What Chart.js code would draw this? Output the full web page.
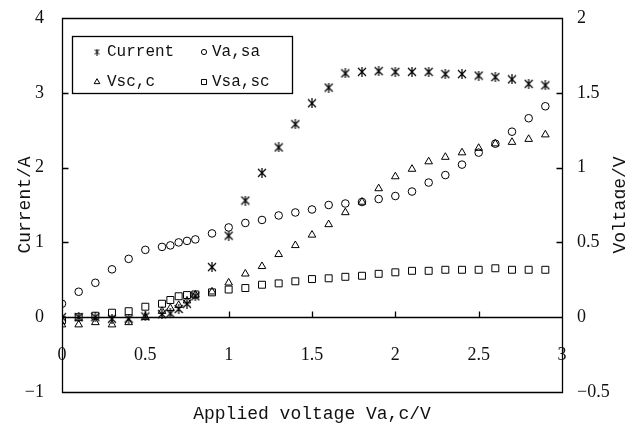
<!DOCTYPE html>
<html>
<head>
<meta charset="utf-8">
<script src="https://cdn.jsdelivr.net/npm/chart.js@4.4.1/dist/chart.umd.min.js"></script>
<style>
  html, body { margin: 0; padding: 0; background: #fff; }
  #wrap { width: 625px; height: 427px; }
</style>
</head>
<body>
<div id="wrap"><canvas id="c" width="625" height="427"></canvas></div>
<script>
// Applied voltage Va,c (V) — shared x values for all four series
const appliedVoltage = [0, 0.1, 0.2, 0.3, 0.4, 0.5, 0.6, 0.65, 0.7, 0.75, 0.8, 0.9,
  1.0, 1.1, 1.2, 1.3, 1.4, 1.5, 1.6, 1.7, 1.8, 1.9, 2.0, 2.1, 2.2, 2.3, 2.4, 2.5,
  2.6, 2.7, 2.8, 2.9];

// Current (A), left axis
const currentA = [0, 0, 0, -0.02, -0.02, 0.01, 0.04, 0.05, 0.11, 0.18, 0.28, 0.67,
  1.09, 1.56, 1.93, 2.27, 2.58, 2.86, 3.07, 3.26, 3.28, 3.29, 3.28, 3.28, 3.28, 3.25,
  3.25, 3.23, 3.21, 3.18, 3.12, 3.10];

// Voltages (V), right axis
const vaSa = [0.09, 0.17, 0.23, 0.32, 0.39, 0.45, 0.47, 0.48, 0.50, 0.51, 0.52, 0.56,
  0.60, 0.63, 0.65, 0.68, 0.70, 0.72, 0.75, 0.76, 0.77, 0.79, 0.81, 0.84, 0.90, 0.95,
  1.02, 1.10, 1.16, 1.24, 1.33, 1.41];
const vscC = [-0.05, -0.05, -0.035, -0.05, -0.035, 0.0, 0.04, 0.06, 0.08, 0.11, 0.15, 0.17,
  0.23, 0.29, 0.34, 0.42, 0.48, 0.55, 0.62, 0.70, 0.77, 0.86, 0.94, 0.99, 1.04, 1.07,
  1.10, 1.13, 1.16, 1.17, 1.19, 1.22];
const vsaSc = [-0.02, 0.0, 0.01, 0.03, 0.04, 0.07, 0.09, 0.115, 0.14, 0.148, 0.152, 0.166,
  0.185, 0.195, 0.217, 0.226, 0.24, 0.255, 0.26, 0.27, 0.277, 0.29, 0.30, 0.31, 0.31, 0.317,
  0.317, 0.317, 0.327, 0.317, 0.317, 0.317];

const seriesNames = ['Current', 'Va,sa', 'Vsc,c', 'Vsa,sc'];
const xTitle = 'Applied voltage Va,c/V';
const yLeftTitle = 'Current/A';
const yRightTitle = 'Voltage/V';

const TICK_FONT = { family: '"Liberation Serif", "DejaVu Serif", serif', size: 18 };
const TITLE_FONT = '18px "Liberation Mono", "DejaVu Sans Mono", monospace';
const LEGEND_FONT = '16px "Liberation Mono", "DejaVu Sans Mono", monospace';
const INK = '#111';

function pairs(ys) {
  return appliedVoltage.map((x, i) => ({ x: x, y: ys[i] }));
}

// Asterisk marker: an X crossed by a vertical stroke
function asteriskMarker(size, lw) {
  const c = document.createElement('canvas');
  c.width = size; c.height = size;
  const g = c.getContext('2d');
  g.strokeStyle = '#000';
  g.lineWidth = lw;
  const m = size / 2, a = 1, b = size - 1;
  g.beginPath();
  g.moveTo(a, a); g.lineTo(b, b);
  g.moveTo(b, a); g.lineTo(a, b);
  g.moveTo(m, 0); g.lineTo(m, size);
  g.stroke();
  return c;
}

const markerStyles = [
  { pointStyle: asteriskMarker(10, 1.2), radius: 5, legendStyle: asteriskMarker(7, 1), legendRadius: 3.5 },
  { pointStyle: 'circle', radius: 3.8, legendStyle: 'circle', legendRadius: 2.6 },
  { pointStyle: 'triangle', radius: 4.4, legendStyle: 'triangle', legendRadius: 3.3 },
  { pointStyle: 'rect', radius: 4.9, legendStyle: 'rect', legendRadius: 3.6 }
];

const seriesValues = [currentA, vaSa, vscC, vsaSc];
const axisIds = ['y', 'y1', 'y1', 'y1'];

const datasets = seriesNames.map((name, i) => ({
  label: name,
  data: pairs(seriesValues[i]),
  yAxisID: axisIds[i],
  showLine: false,
  pointStyle: markerStyles[i].pointStyle,
  pointRadius: markerStyles[i].radius,
  pointHoverRadius: markerStyles[i].radius,
  pointBorderWidth: 1,
  pointBorderColor: '#000',
  pointBackgroundColor: 'rgba(0,0,0,0)',
  borderColor: '#000',
  backgroundColor: 'rgba(0,0,0,0)'
}));

const plainLabel = v => String(Math.round(v * 100) / 100).replace('-', '\u2212');

// Frame, inward tick marks, zero line, axis titles and the boxed legend
const framePlugin = {
  id: 'frame',
  afterDatasetsDraw(chart) {
    const { ctx, chartArea: a, scales } = chart;
    const L = Math.round(a.left) + 0.5, R = Math.round(a.right) + 0.5;
    const T = Math.round(a.top) + 0.5, B = Math.round(a.bottom) + 0.5;
    const Z = Math.round(scales.y.getPixelForValue(0)) + 0.5;
    const TL = 6;
    ctx.save();
    ctx.strokeStyle = '#000';
    ctx.lineWidth = 1.3;
    ctx.beginPath();
    ctx.rect(L, T, R - L, B - T);
    ctx.moveTo(L, Z); ctx.lineTo(R, Z);
    scales.y.ticks.forEach(t => {
      if (t.value <= scales.y.min || t.value >= scales.y.max) return;
      const p = Math.round(scales.y.getPixelForValue(t.value)) + 0.5;
      ctx.moveTo(L, p); ctx.lineTo(L + TL, p);
    });
    scales.y1.ticks.forEach(t => {
      if (t.value <= scales.y1.min || t.value >= scales.y1.max) return;
      const p = Math.round(scales.y1.getPixelForValue(t.value)) + 0.5;
      ctx.moveTo(R, p); ctx.lineTo(R - TL, p);
    });
    scales.x.ticks.forEach(t => {
      if (t.value <= scales.x.min || t.value >= scales.x.max) return;
      const p = Math.round(scales.x.getPixelForValue(t.value)) + 0.5;
      ctx.moveTo(p, Z); ctx.lineTo(p, Z - TL);
    });
    ctx.stroke();

    // axis titles
    ctx.fillStyle = INK;
    ctx.font = TITLE_FONT;
    ctx.textAlign = 'center';
    ctx.textBaseline = 'alphabetic';
    ctx.fillText(xTitle, (a.left + a.right) / 2, 419);
    ctx.save();
    ctx.translate(30, (a.top + a.bottom) / 2);
    ctx.rotate(-Math.PI / 2);
    ctx.fillText(yLeftTitle, 0, 0);
    ctx.restore();
    ctx.save();
    ctx.translate(625, 205);
    ctx.rotate(-Math.PI / 2);
    ctx.fillText(yRightTitle, 0, 0);
    ctx.restore();

    // legend box, two columns by two rows
    const box = { x: 72.5, y: 36.5, w: 220, h: 57 };
    ctx.fillStyle = '#fff';
    ctx.fillRect(box.x, box.y, box.w, box.h);
    ctx.lineWidth = 1.3;
    ctx.strokeRect(box.x, box.y, box.w, box.h);
    const slots = [
      { mx: 97, tx: 107, y: 52 }, { mx: 204, tx: 212, y: 52 },
      { mx: 97, tx: 107, y: 82 }, { mx: 204, tx: 212, y: 82 }
    ];
    ctx.font = LEGEND_FONT;
    ctx.textAlign = 'left';
    ctx.textBaseline = 'middle';
    chart.data.datasets.forEach((ds, i) => {
      const s = slots[i], m = markerStyles[i];
      ctx.strokeStyle = '#000';
      ctx.fillStyle = 'rgba(0,0,0,0)';
      ctx.lineWidth = 1;
      Chart.helpers.drawPoint(ctx, { pointStyle: m.legendStyle, radius: m.legendRadius, borderWidth: 1, rotation: 0 }, s.mx, s.y);
      ctx.fillStyle = INK;
      ctx.fillText(ds.label, s.tx, s.y);
    });
    ctx.restore();
  }
};

new Chart(document.getElementById('c'), {
  type: 'scatter',
  data: { datasets: datasets },
  options: {
    responsive: false,
    animation: false,
    devicePixelRatio: 1,
    layout: { padding: { top: 18, bottom: 35, left: 0, right: 0 } },
    plugins: { legend: { display: false }, tooltip: { enabled: false } },
    scales: {
      x: {
        type: 'linear', position: { y: 0 }, min: 0, max: 3,
        ticks: { stepSize: 0.5, padding: 19, font: TICK_FONT, color: INK, maxRotation: 0, autoSkip: false, callback: plainLabel },
        grid: { display: false }, border: { display: false },
        afterFit(s) { s.paddingLeft = 0; s.paddingRight = 0; }
      },
      y: {
        type: 'linear', position: 'left', min: -1, max: 4,
        ticks: { stepSize: 1, padding: 10, font: TICK_FONT, color: INK, callback: plainLabel },
        grid: { display: false }, border: { display: false },
        afterFit(s) { s.width = 62; s.paddingTop = 0; s.paddingBottom = 0; }
      },
      y1: {
        type: 'linear', position: 'right', min: -0.5, max: 2,
        ticks: { stepSize: 0.5, padding: 7, font: TICK_FONT, color: INK, callback: plainLabel },
        grid: { display: false }, border: { display: false },
        afterFit(s) { s.width = 63; s.paddingTop = 0; s.paddingBottom = 0; }
      }
    }
  },
  plugins: [framePlugin]
});
</script>
</body>
</html>
